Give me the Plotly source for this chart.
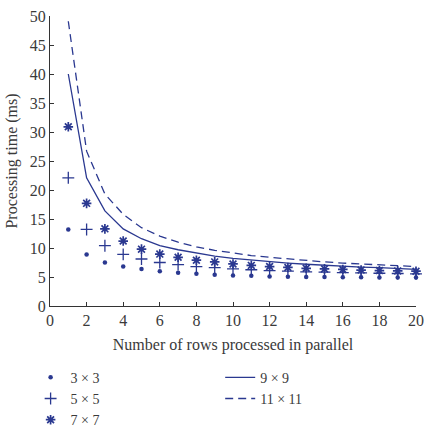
import plotly.graph_objects as go

rows = list(range(1, 21))

t_3x3 = [13.2, 8.9, 7.5, 6.8, 6.4, 6.0, 5.75, 5.55, 5.4, 5.25, 5.2, 5.1, 5.05, 5.0, 5.0, 4.95, 4.95, 4.9, 4.9, 4.9]
t_5x5 = [22.1, 13.2, 10.4, 8.9, 8.1, 7.5, 7.15, 6.8, 6.6, 6.4, 6.25, 6.1, 6.0, 5.9, 5.85, 5.75, 5.7, 5.65, 5.6, 5.55]
t_7x7 = [30.9, 17.7, 13.3, 11.2, 9.8, 8.95, 8.4, 7.9, 7.6, 7.25, 7.0, 6.8, 6.65, 6.5, 6.4, 6.3, 6.2, 6.1, 6.05, 6.0]
t_9x9 = [40.0, 22.1, 16.4, 13.3, 11.6, 10.4, 9.7, 9.1, 8.6, 8.2, 7.9, 7.6, 7.4, 7.2, 7.0, 6.85, 6.7, 6.6, 6.45, 6.3]
t_11x11 = [49.1, 26.7, 19.3, 15.8, 13.5, 12.05, 11.0, 10.2, 9.6, 9.1, 8.7, 8.4, 8.1, 7.85, 7.6, 7.4, 7.25, 7.1, 6.95, 6.8]

x_ticks = list(range(0, 21, 2))
y_ticks = list(range(0, 51, 5))

C = "#2a3890"
FONT = "Liberation Serif"
TXT = "#3a3a3a"

fig = go.Figure()
fig.add_trace(go.Scatter(x=rows, y=t_3x3, mode="markers", name="3 × 3",
                         marker=dict(symbol="circle", size=4.5, color=C),
                         cliponaxis=False, legend="legend"))
fig.add_trace(go.Scatter(x=rows, y=t_5x5, mode="markers", name="5 × 5",
                         marker=dict(symbol="cross-thin-open", size=8.5, color=C,
                                     line=dict(color=C, width=1.3)),
                         cliponaxis=False, legend="legend"))
fig.add_trace(go.Scatter(x=rows, y=t_7x7, mode="markers", name="7 × 7",
                         marker=dict(symbol="asterisk-open", size=8, color=C,
                                     line=dict(color=C, width=1.7)),
                         cliponaxis=False, legend="legend"))
fig.add_trace(go.Scatter(x=rows, y=t_9x9, mode="lines", name="9 × 9",
                         line=dict(color=C, width=1.3),
                         legend="legend2"))
fig.add_trace(go.Scatter(x=rows, y=t_11x11, mode="lines", name="11 × 11",
                         line=dict(color=C, width=1.3, dash="8px,5px"),
                         legend="legend2"))

axis_common = dict(showgrid=False, zeroline=False, showline=True,
                   linecolor="#333333", linewidth=1.2,
                   ticks="inside", ticklen=4, tickcolor="#333333",
                   tickfont=dict(family=FONT, size=16, color=TXT))

fig.update_layout(
    width=430, height=428,
    margin=dict(l=49.5, r=13.7, t=15.7, b=122, autoexpand=False),
    paper_bgcolor="white", plot_bgcolor="white",
    font=dict(family=FONT, size=16, color=TXT),
    xaxis=dict(range=[0, 20], tickvals=x_ticks, automargin=False,
               title=dict(text="Number of rows processed in parallel",
                          font=dict(family=FONT, size=16, color=TXT), standoff=10),
               **axis_common),
    yaxis=dict(range=[0, 50], tickvals=y_ticks, automargin=False,
               title=dict(text="Processing time (ms)",
                          font=dict(family=FONT, size=16, color=TXT), standoff=8),
               **axis_common),
    legend=dict(x=-0.053, y=-0.192, xanchor="left", yanchor="top",
                orientation="v", bgcolor="rgba(0,0,0,0)",
                font=dict(family=FONT, size=14, color=TXT),
                itemwidth=30, tracegroupgap=0),
    legend2=dict(x=0.465, y=-0.192, xanchor="left", yanchor="top",
                 orientation="v", bgcolor="rgba(0,0,0,0)",
                 font=dict(family=FONT, size=14, color=TXT),
                 itemwidth=30, tracegroupgap=0),
    showlegend=True,
)

fig.write_html("out.html")
